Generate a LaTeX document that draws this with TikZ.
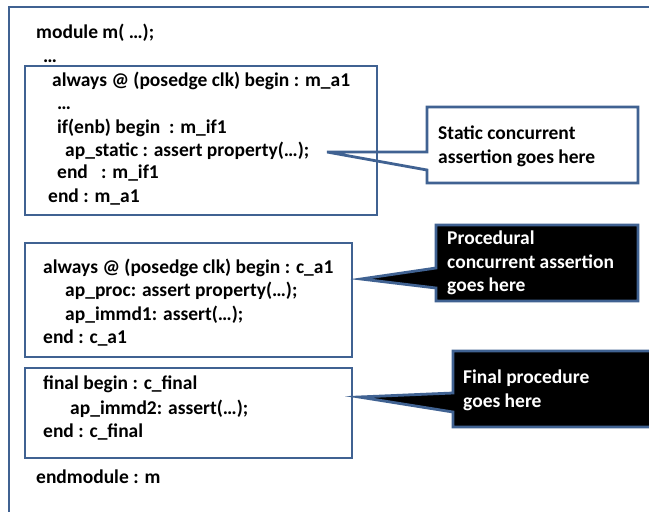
\documentclass[tikz,border=0pt]{standalone}
\usepackage{fontspec}
\setmainfont{Carlito}
\definecolor{frame}{RGB}{64,98,146}
\begin{document}
\begin{tikzpicture}[x=1pt,y=-1pt,
  code/.style={anchor=base west,inner sep=0pt,font=\fontsize{19.5}{23}\selectfont\bfseries},
  note/.style={anchor=base west,inner sep=0pt,font=\fontsize{19.5}{23}\selectfont\bfseries},
  darknote/.style={note,text=white},
  blockbox/.style={draw=frame,line width=2.8pt},
  callout/.style={draw=frame,line width=2.8pt,line join=miter},
]
\clip (0,0) rectangle (649,512);
\fill[white] (0,0) rectangle (649,512);

% module frame (open to the right and bottom)
\draw[blockbox] (9,7) rectangle (680,540);

% callouts with their pointers
\coordinate (tipS) at (327,152);
\coordinate (tipP) at (361,279);
\coordinate (tipF) at (359,397);
\draw[callout,fill=white] (427,107) -- (638,107) -- (638,183) -- (427,183) -- (427,170) -- (tipS) -- (427,152) -- cycle;
\draw[callout,fill=black] (436,225) -- (638,225) -- (638,301) -- (436,301) -- (436,288) -- (tipP) -- (436,268) -- cycle;
\draw[callout,fill=black] (453,351) -- (680,351) -- (680,427) -- (453,427) -- (453,412) -- (tipF) -- (453,393) -- cycle;

% code blocks
\draw[blockbox] (25,66) rectangle (377,215);
\draw[blockbox] (25,243) rectangle (352,357);
\draw[blockbox] (25,368) rectangle (352,458);

% module text
\node[code] (mod) at (36,38) {module m( …);};
\node[code] (dots1) at (43,62) {…};

\node[code] (a1) at (52,86) {always @ (posedge clk) begin : m\_a1};
\node[code] (a2) at (57,109) {…};
\node[code] (a3) at (57,133) {if(enb) begin\ \ : m\_if1};
\node[code] (a4) at (65,156) {ap\_static : assert property(…);};
\node[code] (a5) at (57,178) {end\ \ \ : m\_if1};
\node[code] (a6) at (48,202) {end : m\_a1};

\node[code] (c1) at (43,273) {always @ (posedge clk) begin : c\_a1};
\node[code] (c2) at (65,296) {ap\_proc: assert property(…);};
\node[code] (c3) at (65,320) {ap\_immd1: assert(…);};
\node[code] (c4) at (43,343) {end : c\_a1};

\node[code] (f1) at (43,389) {final begin : c\_final};
\node[code] (f2) at (70,414) {ap\_immd2: assert(…);};
\node[code] (f3) at (43,437) {end : c\_final};

\node[code] (endm) at (36,483) {endmodule : m};

% callout texts
\node[note] (s1) at (438,139) {Static concurrent};
\node[note] (s2) at (438,163) {assertion goes here};

\node[darknote] (p1) at (447,244) {Procedural};
\node[darknote] (p2) at (447,268) {concurrent assertion};
\node[darknote] (p3) at (447,291) {goes here};

\node[darknote] (q1) at (463,383) {Final procedure};
\node[darknote] (q2) at (463,407) {goes here};
\end{tikzpicture}
\end{document}
